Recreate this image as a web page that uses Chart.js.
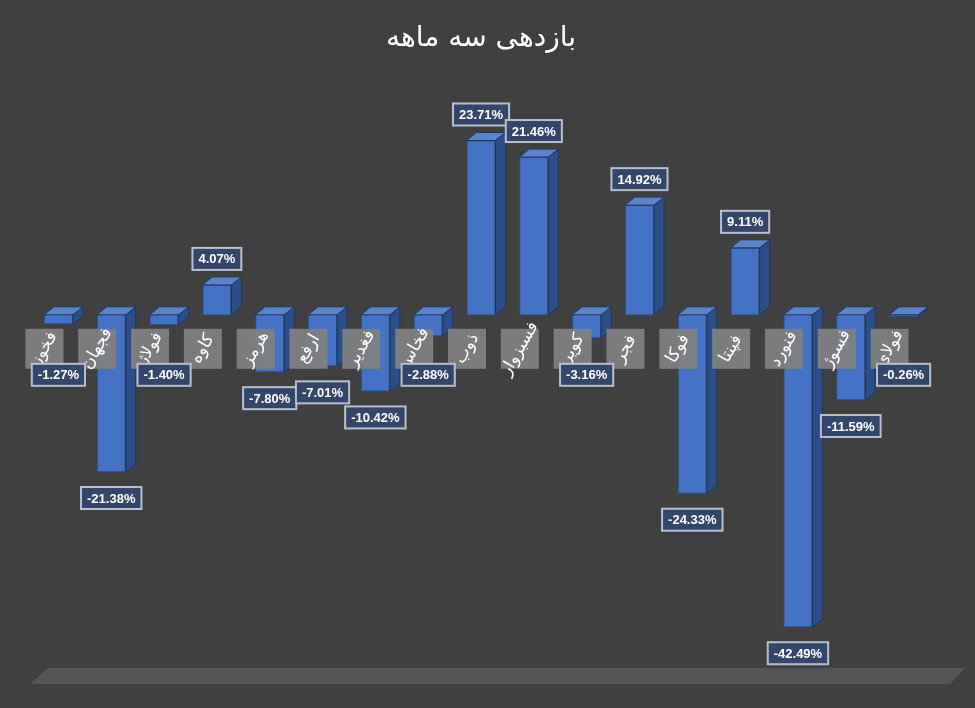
<!DOCTYPE html><html><head><meta charset="utf-8">
<script src="https://cdn.jsdelivr.net/npm/chart.js@4"></script>
<style>html,body{margin:0;background:#404040}#w{width:975px;height:708px;position:relative}</style></head><body><div id="w"><canvas id="c"></canvas></div>
<script>
const categories=['فخوز','فجهان','فولاژ','کاوه','هرمز','ارفع','فغدیر','فخاس','ذوب','فسبزوار','کویر','فجر','فوکا','فپنتا','فنورد','فسوژ','فولای'];
const values=[-1.27,-21.38,-1.40,4.07,-7.80,-7.01,-10.42,-2.88,23.71,21.46,-3.16,14.92,-24.33,9.11,-42.49,-11.59,-0.26];
const title='بازدهی سه ماهه';
const deco={id:'deco',
beforeDraw(ch){const c=ch.ctx;c.save();c.fillStyle='#404040';c.fillRect(0,0,ch.width,ch.height);
c.fillStyle='#555';c.beginPath();c.moveTo(30,684);c.lineTo(950,684);c.lineTo(965,668);c.lineTo(48,668);c.closePath();c.fill();c.restore();},
afterDatasetsDraw(ch){const c=ch.ctx,m=ch.getDatasetMeta(0),y0=ch.scales.y.getPixelForValue(0);c.save();
m.data.forEach((b,i)=>{const w=b.width,l=b.x-w/2,r=b.x+w/2,t=Math.min(b.y,b.base),bt=Math.max(b.y,b.base),dx=10,dy=8;
c.fillStyle='#2c4e86';c.strokeStyle='#1f3560';c.lineWidth=1;
c.beginPath();c.moveTo(r,t);c.lineTo(r+dx,t-dy);c.lineTo(r+dx,bt-dy);c.lineTo(r,bt);c.closePath();c.fill();c.stroke();
c.fillStyle='#5a84cc';c.beginPath();c.moveTo(l,t);c.lineTo(l+dx,t-dy);c.lineTo(r+dx,t-dy);c.lineTo(r,t);c.closePath();c.fill();c.stroke();});
m.data.forEach((b,i)=>{const cx=b.x-14,cy=y0+34;c.fillStyle='rgba(128,128,128,0.95)';c.fillRect(cx-19,cy-20,38,40);
c.save();c.translate(cx,cy);c.rotate(-Math.PI/3);c.fillStyle='#fff';c.font='17px "DejaVu Sans"';c.textAlign='center';c.textBaseline='middle';c.fillText(categories[i],0,0);c.restore();});
m.data.forEach((b,i)=>{const v=values[i],txt=v.toFixed(2)+'%';c.font='bold 13px "Liberation Sans"';const tw=c.measureText(txt).width+12,h=22;
let cx=b.x,cy=v>=0?b.y-26:b.y+26;if(v<0&&cy<y0+60)cy=y0+60;
c.fillStyle='#34466a';c.strokeStyle='#b8c0d0';c.lineWidth=2;c.fillRect(cx-tw/2,cy-h/2,tw,h);c.strokeRect(cx-tw/2,cy-h/2,tw,h);
c.fillStyle='#fff';c.textAlign='center';c.textBaseline='middle';c.fillText(txt,cx,cy+1);});
c.restore();}};
new Chart(document.getElementById('c'),{type:'bar',
data:{labels:categories,datasets:[{data:values,backgroundColor:'#4472c4',borderColor:'#2f528f',borderWidth:1,barPercentage:0.55,categoryPercentage:1}]},
options:{responsive:true,maintainAspectRatio:false,animation:false,layout:{padding:{left:32,right:45,top:0,bottom:66}},
plugins:{legend:{display:false},tooltip:{enabled:false},title:{display:true,text:title,color:'#fff',font:{size:28,weight:'normal',family:'"DejaVu Sans"'},padding:{top:22,bottom:46}}},
scales:{x:{display:false},y:{display:false,min:-44.5,max:29}}},plugins:[deco]});
</script></body></html>
